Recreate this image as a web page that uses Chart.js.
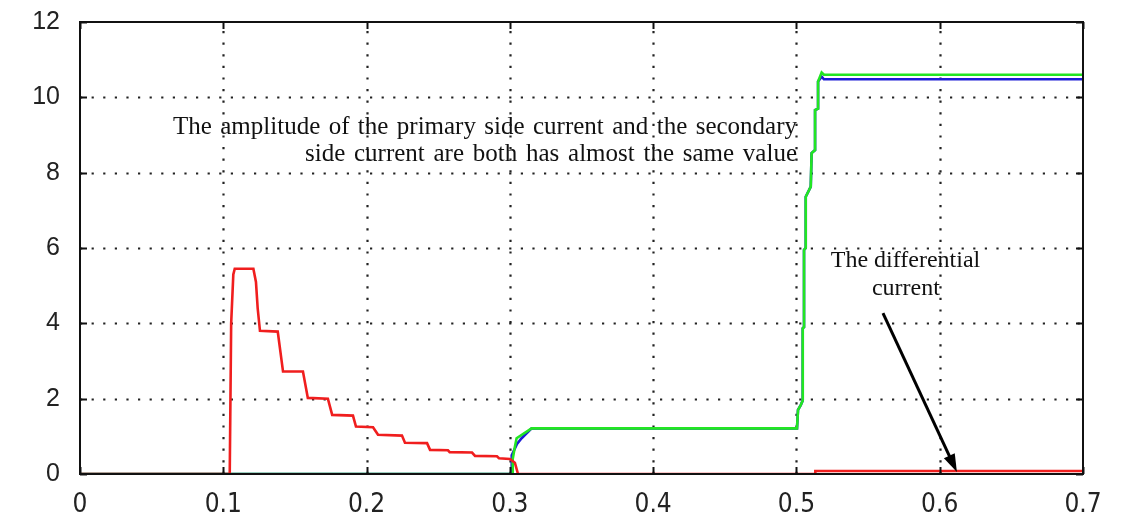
<!DOCTYPE html>
<html>
<head>
<meta charset="utf-8">
<script src="https://cdn.jsdelivr.net/npm/chart.js@4.4.0/dist/chart.umd.min.js"></script>
<style>
  html, body { margin: 0; padding: 0; background: #fff; }
  #wrap { width: 1143px; height: 512px; position: relative; }
</style>
</head>
<body>
<div id="wrap"><canvas id="chart"></canvas></div>
<script>
/* ---------- axis ticks ---------- */
const xTicks      = [0, 0.1, 0.2, 0.3, 0.4, 0.5, 0.6, 0.7];
const xTickLabels = ['0', '0.1', '0.2', '0.3', '0.4', '0.5', '0.6', '0.7'];
const yTicks      = [0, 2, 4, 6, 8, 10, 12];

/* ---------- differential current (red) ---------- */
const redX = [0, 0.1045, 0.105, 0.1055, 0.107, 0.108, 0.121, 0.1228, 0.124, 0.1256, 0.138, 0.1417,
              0.1556, 0.159, 0.173, 0.176, 0.1905, 0.1926, 0.2045, 0.208, 0.2247, 0.2268, 0.2422,
              0.2443, 0.2568, 0.258, 0.2736, 0.2757, 0.291, 0.2924, 0.300, 0.3035, 0.3057, 0.513,
              0.5132, 0.7];
const redY = [0, 0, 2.0, 4.0, 5.3, 5.45, 5.45, 5.1, 4.4, 3.8, 3.78, 2.72,
              2.72, 2.02, 2.0, 1.57, 1.55, 1.26, 1.24, 1.04, 1.02, 0.83, 0.82,
              0.64, 0.63, 0.58, 0.57, 0.48, 0.47, 0.42, 0.40, 0.3, 0, 0,
              0.08, 0.08];

/* ---------- primary side current (green) ---------- */
const greenX = [0, 0.3015, 0.302, 0.3035, 0.3047, 0.3152, 0.5004, 0.5011, 0.503, 0.5044, 0.5044,
                0.5053, 0.5053, 0.5065, 0.5065, 0.51, 0.5106, 0.513, 0.513, 0.5151, 0.5151,
                0.5176, 0.5192, 0.7];
const greenY = [0, 0, 0.4, 0.72, 0.95, 1.21, 1.21, 1.7, 1.83, 1.95, 3.87,
                3.9, 5.95, 6.0, 7.36, 7.63, 8.52, 8.6, 9.66, 9.7, 10.42,
                10.66, 10.6, 10.6];

/* ---------- secondary side current (blue) ---------- */
const blueX = [0, 0.3008, 0.3013, 0.305, 0.3082, 0.3152, 0.5004, 0.5011, 0.503, 0.5044, 0.5044,
               0.5053, 0.5053, 0.5065, 0.5065, 0.51, 0.5106, 0.513, 0.513, 0.5151, 0.5151,
               0.5176, 0.5192, 0.7];
const blueY = [0, 0, 0.5, 0.8, 0.95, 1.21, 1.21, 1.7, 1.83, 1.95, 3.87,
               3.9, 5.95, 6.0, 7.36, 7.63, 8.52, 8.6, 9.66, 9.7, 10.42,
               10.55, 10.48, 10.48];

const zip = (xs, ys) => xs.map((x, i) => ({ x, y: ys[i] }));

/* ================================================
   GRID, FRAME, ANNOTATIONS  (MATLAB-style look)
================================================ */

function seg(ctx, x1, y1, x2, y2) {
  ctx.beginPath();
  ctx.moveTo(x1, y1);
  ctx.lineTo(x2, y2);
  ctx.stroke();
}

function fitText(ctx, text, xLeft, xRight, baseY) {
  // right aligned, words spread so the line spans xLeft..xRight (justified look)
  const spaces = (text.match(/ /g) || []).length;
  const w = ctx.measureText(text).width;
  const extra = spaces ? Math.max(0, (xRight - xLeft - w) / spaces) : 0;
  ctx.wordSpacing = extra + 'px';
  ctx.textAlign = 'right';
  ctx.fillText(text, xRight, baseY);
  ctx.wordSpacing = '0px';
}

const matlabFrame = {
  id: 'matlabFrame',
  beforeDatasetsDraw(chart) {
    const { ctx, chartArea: a, scales: { x, y } } = chart;
    ctx.save();
    ctx.strokeStyle = '#222';
    ctx.lineWidth = 2.2;
    ctx.lineCap = 'butt';
    ctx.setLineDash([2.2, 9.4]);
    xTicks.slice(1, -1).forEach(v => {
      const px = Math.round(x.getPixelForValue(v)) + 0.5;
      seg(ctx, px, a.bottom, px, a.top);
    });
    yTicks.slice(1, -1).forEach(v => {
      const py = Math.round(y.getPixelForValue(v)) + 0.5;
      seg(ctx, a.left, py, a.right, py);
    });
    ctx.restore();
  },
  afterDatasetsDraw(chart) {
    const { ctx, chartArea: a, scales: { x, y } } = chart;
    ctx.save();

    /* box + inward ticks */
    ctx.strokeStyle = '#111';
    ctx.lineWidth = 2;
    ctx.setLineDash([]);
    ctx.strokeRect(a.left, a.top, a.right - a.left, a.bottom - a.top);
    const tl = 7;
    xTicks.forEach(v => {
      const px = Math.round(x.getPixelForValue(v)) + 0.5;
      seg(ctx, px, a.bottom, px, a.bottom - tl);
      seg(ctx, px, a.top, px, a.top + tl);
    });
    yTicks.forEach(v => {
      const py = Math.round(y.getPixelForValue(v)) + 0.5;
      seg(ctx, a.left, py, a.left + tl, py);
      seg(ctx, a.right, py, a.right - tl, py);
    });

    /* annotation: amplitude text */
    ctx.fillStyle = '#111';
    ctx.textBaseline = 'alphabetic';
    ctx.font = '25px "Liberation Serif", "Times New Roman", serif';
    fitText(ctx, 'The amplitude of the primary side current and the secondary',
            x.getPixelForValue(0.0649), x.getPixelForValue(0.5004), y.getPixelForValue(9.02));
    fitText(ctx, 'side current are both has almost the same value',
            x.getPixelForValue(0.157), x.getPixelForValue(0.5004), y.getPixelForValue(8.3));

    /* annotation: differential current */
    ctx.font = '24px "Liberation Serif", "Times New Roman", serif';
    ctx.textAlign = 'center';
    ctx.fillText('The differential', x.getPixelForValue(0.5761), y.getPixelForValue(5.5));
    ctx.fillText('current', x.getPixelForValue(0.5764), y.getPixelForValue(4.76));

    /* arrow */
    const x1 = x.getPixelForValue(0.5604), y1 = y.getPixelForValue(4.27);
    const x2 = x.getPixelForValue(0.612),  y2 = y.getPixelForValue(0.05);
    const ang = Math.atan2(y2 - y1, x2 - x1);
    const hl = 18, hw = 6;
    ctx.strokeStyle = '#000';
    ctx.lineWidth = 3;
    seg(ctx, x1, y1, x2 - Math.cos(ang) * hl * 0.8, y2 - Math.sin(ang) * hl * 0.8);
    ctx.fillStyle = '#000';
    ctx.beginPath();
    ctx.moveTo(x2, y2);
    ctx.lineTo(x2 - Math.cos(ang) * hl - Math.sin(ang) * hw, y2 - Math.sin(ang) * hl + Math.cos(ang) * hw);
    ctx.lineTo(x2 - Math.cos(ang) * hl + Math.sin(ang) * hw, y2 - Math.sin(ang) * hl - Math.cos(ang) * hw);
    ctx.closePath();
    ctx.fill();

    ctx.restore();
  },
};

/* ================================================
   CHART
================================================ */

const lineDs = (label, data, color) => ({
  label,
  data,
  borderColor:  color,
  borderWidth:  2.6,
  pointRadius:  0,
  showLine:     true,
  tension:      0,
  fill:         false,
});

new Chart(document.getElementById('chart').getContext('2d'), {
  type: 'scatter',
  data: {
    datasets: [
      lineDs('Differential current',   zip(redX, redY),     '#f01e1e'),
      lineDs('Primary side current',   zip(greenX, greenY), '#22e622'),
      lineDs('Secondary side current', zip(blueX, blueY),   '#1c1cd6'),
    ],
  },
  options: {
    responsive:          true,
    maintainAspectRatio: false,
    animation:           false,
    layout: { padding: { left: 0, right: 60, top: 22, bottom: 0 } },
    plugins: {
      legend:  { display: false },
      tooltip: { enabled: false },
    },
    scales: {
      x: {
        type: 'linear',
        min:  0,
        max:  0.7,
        afterBuildTicks: s => { s.ticks = xTicks.map(v => ({ value: v })); },
        afterFit: s => { s.height = 38; },
        ticks: {
          color:    '#222',
          padding:  8,
          font:     { family: '"DejaVu Sans Condensed", "Liberation Sans", sans-serif', size: 26 },
          maxRotation: 0,
          autoSkip: false,
          callback: (v, i) => xTickLabels[i],
        },
        grid:   { display: false },
        border: { display: false },
      },
      y: {
        min: 0,
        max: 12,
        afterBuildTicks: s => { s.ticks = yTicks.map(v => ({ value: v })); },
        afterFit: s => { s.width = 80; },
        ticks: {
          color:   '#222',
          padding: 12,
          font:    { family: '"Liberation Sans", Arial, sans-serif', size: 25, lineHeight: 0.8 },
          autoSkip: false,
          callback: v => String(v),
        },
        grid:   { display: false },
        border: { display: false },
      },
    },
  },
  plugins: [matlabFrame],
});
</script>
</body>
</html>
